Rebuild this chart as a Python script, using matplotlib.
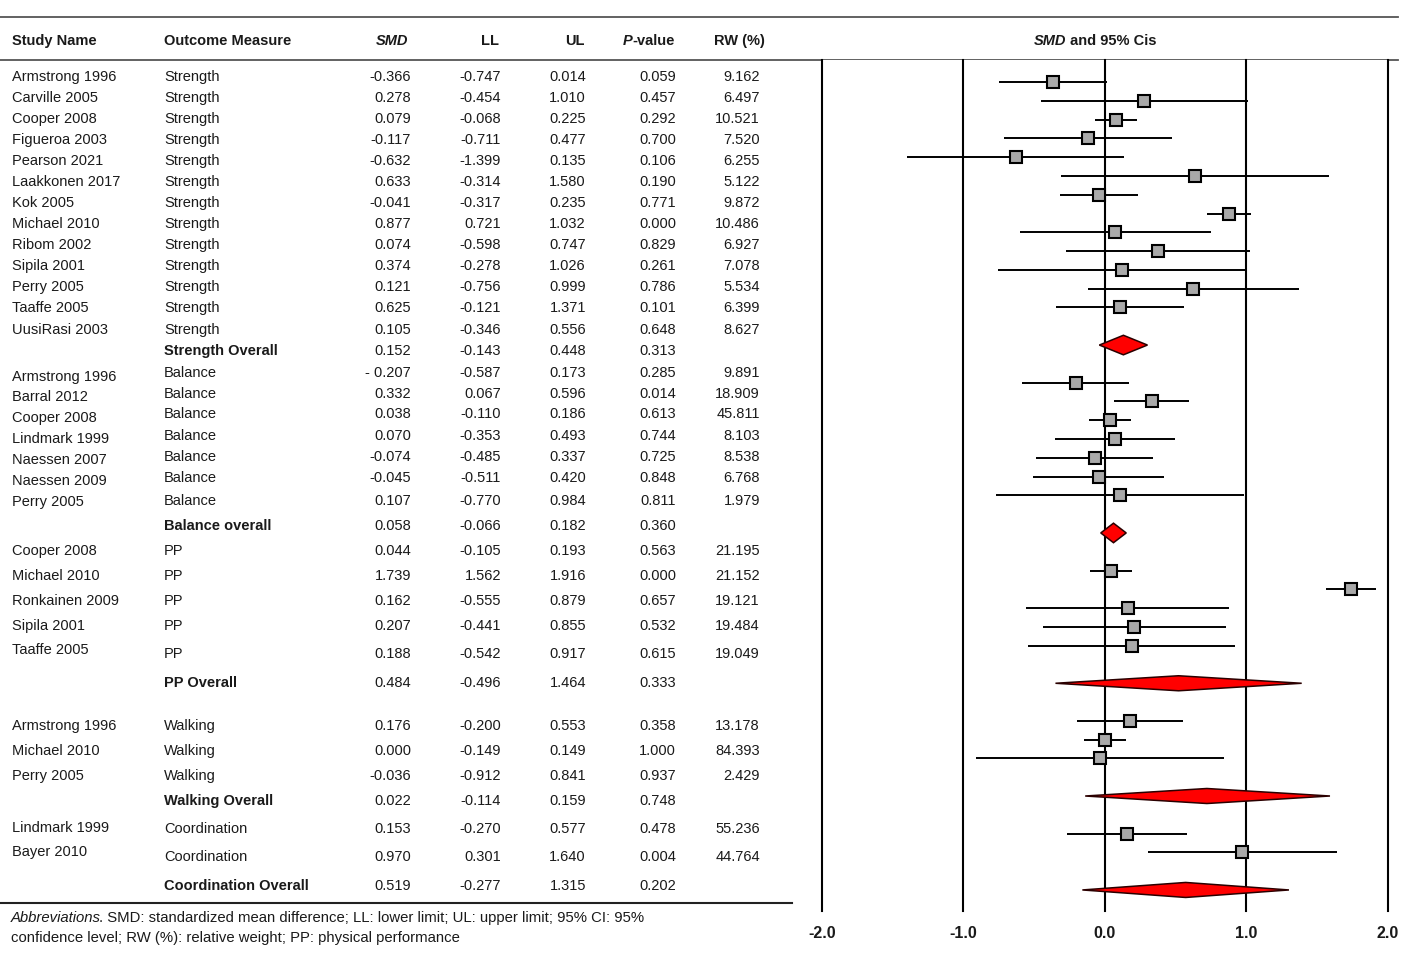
import matplotlib.pyplot as plt
from matplotlib.patches import Polygon

plt.rcParams['font.family'] = ['Liberation Sans', 'DejaVu Sans']

# table data (overall rows have an empty study name)
study_names = ["Armstrong 1996", "Carville 2005", "Cooper 2008", "Figueroa 2003", "Pearson 2021",
               "Laakkonen 2017", "Kok 2005", "Michael 2010", "Ribom 2002", "Sipila 2001",
               "Perry 2005", "Taaffe 2005", "UusiRasi 2003", "",
               "Armstrong 1996", "Barral 2012", "Cooper 2008", "Lindmark 1999", "Naessen 2007",
               "Naessen 2009", "Perry 2005", "",
               "Cooper 2008", "Michael 2010", "Ronkainen 2009", "Sipila 2001", "Taaffe 2005", "",
               "Armstrong 1996", "Michael 2010", "Perry 2005", "",
               "Lindmark 1999", "Bayer 2010", ""]
outcomes = (["Strength"] * 13 + ["Strength Overall"] + ["Balance"] * 7 + ["Balance overall"]
            + ["PP"] * 5 + ["PP Overall"] + ["Walking"] * 3 + ["Walking Overall"]
            + ["Coordination"] * 2 + ["Coordination Overall"])
smd = [-0.366, 0.278, 0.079, -0.117, -0.632, 0.633, -0.041, 0.877, 0.074, 0.374, 0.121, 0.625, 0.105, 0.152,
       -0.207, 0.332, 0.038, 0.070, -0.074, -0.045, 0.107, 0.058,
       0.044, 1.739, 0.162, 0.207, 0.188, 0.484,
       0.176, 0.000, -0.036, 0.022,
       0.153, 0.970, 0.519]
ll = [-0.747, -0.454, -0.068, -0.711, -1.399, -0.314, -0.317, 0.721, -0.598, -0.278, -0.756, -0.121, -0.346, -0.143,
      -0.587, 0.067, -0.110, -0.353, -0.485, -0.511, -0.770, -0.066,
      -0.105, 1.562, -0.555, -0.441, -0.542, -0.496,
      -0.200, -0.149, -0.912, -0.114,
      -0.270, 0.301, -0.277]
ul = [0.014, 1.010, 0.225, 0.477, 0.135, 1.580, 0.235, 1.032, 0.747, 1.026, 0.999, 1.371, 0.556, 0.448,
      0.173, 0.596, 0.186, 0.493, 0.337, 0.420, 0.984, 0.182,
      0.193, 1.916, 0.879, 0.855, 0.917, 1.464,
      0.553, 0.149, 0.841, 0.159,
      0.577, 1.640, 1.315]
p_values = [0.059, 0.457, 0.292, 0.700, 0.106, 0.190, 0.771, 0.000, 0.829, 0.261, 0.786, 0.101, 0.648, 0.313,
            0.285, 0.014, 0.613, 0.744, 0.725, 0.848, 0.811, 0.360,
            0.563, 0.000, 0.657, 0.532, 0.615, 0.333,
            0.358, 1.000, 0.937, 0.748,
            0.478, 0.004, 0.202]
rw = [9.162, 6.497, 10.521, 7.520, 6.255, 5.122, 9.872, 10.486, 6.927, 7.078, 5.534, 6.399, 8.627, None,
      9.891, 18.909, 45.811, 8.103, 8.538, 6.768, 1.979, None,
      21.195, 21.152, 19.121, 19.484, 19.049, None,
      13.178, 84.393, 2.429, None,
      55.236, 44.764, None]
smd_text_override = {14: "- 0.207"}

# pooled diamonds as drawn in the forest panel
diamond_mid = [0.13, 0.06, 0.52, 0.72, 0.57]
diamond_lo = [-0.04, -0.03, -0.35, -0.14, -0.16]
diamond_hi = [0.30, 0.15, 1.39, 1.59, 1.30]

axis_ticks = [-2.0, -1.0, 0.0, 1.0, 2.0]

# layout (pixel rows of the table text)
name_y = [76, 97, 118, 139, 160, 181, 202, 223, 244, 265, 286, 307, 329, 350,
          376, 396, 417, 438, 459, 480, 501, 525,
          550, 575, 600, 625, 649, 682,
          725, 750, 775, 800,
          827, 851, 885]
value_y = [76, 97, 118, 139, 160, 181, 202, 223, 244, 265, 286, 307, 329, 350,
           372, 393, 413, 435, 456, 477, 500, 525,
           550, 575, 600, 625, 653, 682,
           725, 750, 775, 800,
           828, 856, 885]
diamond_half_h = [0.52, 0.52, 0.4, 0.4, 0.4]

W, H = 1428, 956
TXT = '#1a1a1a'
FS = 10.5
DY = 1  # text sits a touch lower than its bbox centre


def draw_table(ax):
    ax.set_xlim(0, W)
    ax.set_ylim(H, 0)
    ax.axis('off')

    ax.plot([0, 1398], [17, 17], color='#555555', lw=1.3)
    ax.plot([0, 1398], [60, 60], color='#555555', lw=1.3)
    ax.plot([0, 792], [903, 903], color='#222222', lw=1.5)

    hy = 40 + DY
    ax.text(12, hy, "Study Name", ha='left', va='center', weight='bold', fontsize=FS, color=TXT)
    ax.text(164, hy, "Outcome Measure", ha='left', va='center', weight='bold', fontsize=FS, color=TXT)
    ax.text(408, hy, "SMD", ha='right', va='center', weight='bold', style='italic', fontsize=FS, color=TXT)
    ax.text(499, hy, "LL", ha='right', va='center', weight='bold', fontsize=FS, color=TXT)
    ax.text(585, hy, "UL", ha='right', va='center', weight='bold', fontsize=FS, color=TXT)
    t = ax.text(675, hy, "-value", ha='right', va='center', weight='bold', fontsize=FS, color=TXT)
    ax.annotate("P", xy=(0, 0.5), xycoords=t, ha='right', va='center', weight='bold',
                style='italic', fontsize=FS, color=TXT)
    ax.text(765, hy, "RW (%)", ha='right', va='center', weight='bold', fontsize=FS, color=TXT)
    t = ax.text(1034, hy, "SMD", ha='left', va='center', weight='bold', style='italic', fontsize=FS, color=TXT)
    ax.annotate(" and 95% Cis", xy=(1, 0.5), xycoords=t, ha='left', va='center', weight='bold',
                fontsize=FS, color=TXT)

    for i in range(len(outcomes)):
        overall = study_names[i] == ""
        yv = value_y[i] + DY
        if not overall:
            ax.text(12, name_y[i] + DY, study_names[i], ha='left', va='center', fontsize=FS, color=TXT)
        ax.text(164, yv, outcomes[i], ha='left', va='center', fontsize=FS, color=TXT,
                weight='bold' if overall else 'normal')
        smd_txt = smd_text_override.get(i, f"{smd[i]:.3f}")
        ax.text(411, yv, smd_txt, ha='right', va='center', fontsize=FS, color=TXT)
        ax.text(501, yv, f"{ll[i]:.3f}", ha='right', va='center', fontsize=FS, color=TXT)
        ax.text(586, yv, f"{ul[i]:.3f}", ha='right', va='center', fontsize=FS, color=TXT)
        ax.text(676, yv, f"{p_values[i]:.3f}", ha='right', va='center', fontsize=FS, color=TXT)
        if rw[i] is not None:
            ax.text(760, yv, f"{rw[i]:.3f}", ha='right', va='center', fontsize=FS, color=TXT)

    t = ax.text(11, 918, "Abbreviations", ha='left', va='center', style='italic', fontsize=10.7, color=TXT)
    ax.annotate(". SMD: standardized mean difference; LL: lower limit; UL: upper limit; 95% CI: 95%",
                xy=(1, 0.5), xycoords=t, xytext=(-1.5, 0), textcoords='offset points',
                ha='left', va='center', fontsize=10.7, color=TXT)
    ax.text(11, 938, "confidence level; RW (%): relative weight; PP: physical performance",
            ha='left', va='center', fontsize=10.7, color=TXT)


def draw_forest(ax):
    # plot rows: one per study, pooled diamond with an empty row before and after
    rows = []
    row = 0
    for i in range(len(outcomes)):
        if study_names[i] == "":
            row += 1
            rows.append(row)
            row += 2
        else:
            rows.append(row)
            row += 1

    ax.set_xlim(-2, 2)
    ax.set_ylim(44.12, -1.17)
    for s in ax.spines.values():
        s.set_visible(False)
    ax.set_yticks([])
    ax.set_xticks(axis_ticks)
    ax.set_xticklabels([f"{v:.1f}" for v in axis_ticks], fontsize=11.5, weight='bold', color=TXT)
    ax.tick_params(axis='x', length=0, pad=11)

    for x in axis_ticks:
        ax.axvline(x, color='black', lw=1.5, clip_on=False, zorder=1)

    k = 0
    for i in range(len(outcomes)):
        y = rows[i]
        if study_names[i] == "":
            h = diamond_half_h[k]
            pts = [(diamond_lo[k], y), (diamond_mid[k], y - h), (diamond_hi[k], y), (diamond_mid[k], y + h)]
            ax.add_patch(Polygon(pts, closed=True, facecolor='#ff0000', edgecolor='#2a0000',
                                 lw=1.1, zorder=3))
            k += 1
        else:
            ax.plot([ll[i], ul[i]], [y, y], color='black', lw=1.4, zorder=2, solid_capstyle='butt')
            ax.plot(smd[i], y, marker='s', ms=9, mfc='#a9a9a9', mec='black', mew=1.5, zorder=4)


def main():
    fig = plt.figure(figsize=(W / 100, H / 100), dpi=100)
    tab = fig.add_axes([0, 0, 1, 1])
    draw_table(tab)
    fax = fig.add_axes([822 / W, 1 - 911 / H, 566 / W, (911 - 60) / H])
    draw_forest(fax)
    fig.savefig("out.png", dpi=100)
    plt.close(fig)


if __name__ == "__main__":
    main()
